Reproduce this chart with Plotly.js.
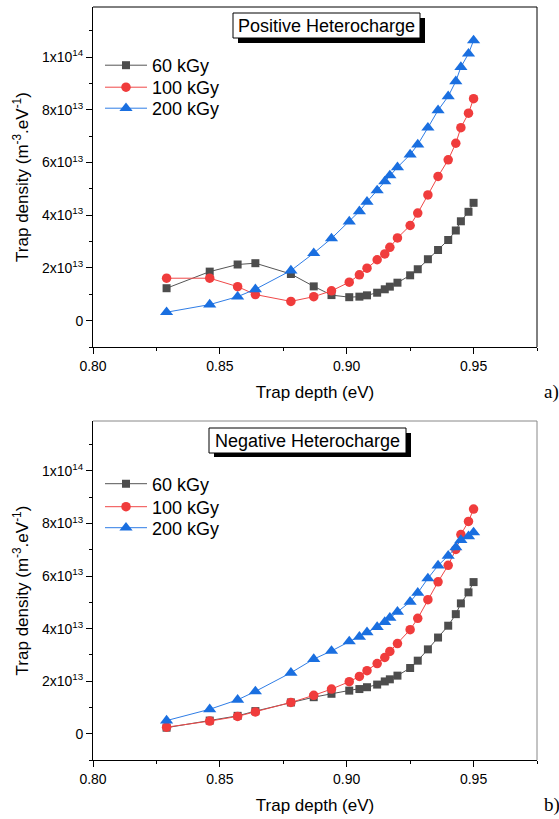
<!DOCTYPE html>
<html>
<head>
<meta charset="utf-8">
<script src="https://cdn.plot.ly/plotly-3.0.1.min.js"></script>
<style>html,body{margin:0;padding:0;background:#fff;}#chart{width:559px;height:819px;}</style>
</head>
<body>
<div id="chart"></div>
<script>
// ---- data ----
const trapDepth = [0.829, 0.846, 0.857, 0.864, 0.878, 0.887, 0.894, 0.901, 0.905, 0.908, 0.912, 0.915, 0.917, 0.920, 0.925, 0.928, 0.932, 0.936, 0.940, 0.943, 0.945, 0.948, 0.950];
const seriesNames = ['60 kGy', '100 kGy', '200 kGy'];
// Positive heterocharge (m^-3 eV^-1)
const pos60  = [1.23e13, 1.86e13, 2.13e13, 2.18e13, 1.77e13, 1.30e13, 0.97e13, 0.89e13, 0.91e13, 0.96e13, 1.06e13, 1.19e13, 1.29e13, 1.44e13, 1.72e13, 1.95e13, 2.33e13, 2.68e13, 3.06e13, 3.42e13, 3.77e13, 4.13e13, 4.47e13];
const pos100 = [1.61e13, 1.61e13, 1.29e13, 0.99e13, 0.73e13, 0.91e13, 1.13e13, 1.46e13, 1.74e13, 1.99e13, 2.31e13, 2.53e13, 2.78e13, 3.14e13, 3.61e13, 4.08e13, 4.77e13, 5.47e13, 6.10e13, 6.73e13, 7.32e13, 7.87e13, 8.42e13];
const pos200 = [0.32e13, 0.61e13, 0.91e13, 1.19e13, 1.90e13, 2.56e13, 3.12e13, 3.76e13, 4.15e13, 4.51e13, 4.94e13, 5.28e13, 5.51e13, 5.82e13, 6.30e13, 6.68e13, 7.32e13, 7.98e13, 8.51e13, 9.08e13, 9.62e13, 10.13e13, 10.63e13];
// Negative heterocharge
const neg60  = [0.23e13, 0.50e13, 0.68e13, 0.86e13, 1.19e13, 1.39e13, 1.52e13, 1.64e13, 1.70e13, 1.77e13, 1.87e13, 1.99e13, 2.07e13, 2.21e13, 2.50e13, 2.78e13, 3.21e13, 3.66e13, 4.11e13, 4.55e13, 4.96e13, 5.38e13, 5.77e13];
const neg100 = [0.25e13, 0.48e13, 0.66e13, 0.83e13, 1.19e13, 1.46e13, 1.70e13, 1.98e13, 2.18e13, 2.40e13, 2.67e13, 2.90e13, 3.13e13, 3.43e13, 3.96e13, 4.39e13, 5.10e13, 5.78e13, 6.41e13, 7.01e13, 7.58e13, 8.08e13, 8.55e13];
const neg200 = [0.50e13, 0.93e13, 1.29e13, 1.61e13, 2.32e13, 2.84e13, 3.15e13, 3.51e13, 3.69e13, 3.86e13, 4.06e13, 4.25e13, 4.41e13, 4.64e13, 5.02e13, 5.36e13, 5.91e13, 6.40e13, 6.77e13, 7.09e13, 7.37e13, 7.51e13, 7.66e13];
const yTickVals = [0, 2e13, 4e13, 6e13, 8e13, 1e14];
const yTickText = ['0', '2x10<sup>13</sup>', '4x10<sup>13</sup>', '6x10<sup>13</sup>', '8x10<sup>13</sup>', '1x10<sup>14</sup>'];
const xTickVals = [0.80, 0.85, 0.90, 0.95];
const xTickText = ['0.80', '0.85', '0.90', '0.95'];
const panelTitles = ['Positive Heterocharge', 'Negative Heterocharge'];
const panelLetters = ['a)', 'b)'];

// ---- styling ----
const W = 559, H = 819;
const px = v => v / W;
const py = v => 1 - v / H;
const FONT = 'Liberation Sans, Arial, sans-serif';
const styles = [
  {color: '#4d4d4d', line: '#555555', symbol: 'square', size: 8},
  {color: '#f03c3c', line: '#f04848', symbol: 'circle', size: 9.5},
  {color: '#1a6fe0', line: '#2f7de6', symbol: 'triangle-up', size: 11.5}
];

function mk(y, i, xa, ya, leg) {
  const s = styles[i];
  return {
    x: trapDepth, y: y, type: 'scatter', mode: 'lines+markers',
    name: seriesNames[i], xaxis: xa, yaxis: ya, legend: leg,
    line: {color: s.line, width: 1},
    marker: {symbol: s.symbol, size: s.size, color: s.color, line: {width: 0}}
  };
}

const data = [
  mk(pos60, 0, 'x', 'y', 'legend'), mk(pos100, 1, 'x', 'y', 'legend2'), mk(pos200, 2, 'x', 'y', 'legend3'),
  mk(neg60, 0, 'x2', 'y2', 'legend4'), mk(neg100, 1, 'x2', 'y2', 'legend5'), mk(neg200, 2, 'x2', 'y2', 'legend6')
];

function xAx(anchor) {
  return {
    anchor: anchor, domain: [px(93), px(537)], range: [0.8, 0.975],
    tickvals: xTickVals, ticktext: xTickText, ticks: 'outside', ticklen: 6, tickwidth: 1, tickcolor: '#000',
    minor: {dtick: 0.025, tick0: 0.8, ticks: 'outside', ticklen: 3, tickcolor: '#000'},
    showline: true, linecolor: '#000', linewidth: 1, mirror: false, showgrid: false, zeroline: false,
    tickfont: {family: FONT, size: 14, color: '#000'},
    title: {text: 'Trap depth (eV)', font: {family: FONT, size: 17, color: '#000'}, standoff: 13},
    automargin: false
  };
}
function yAx(anchor, dom) {
  return {
    anchor: anchor, domain: dom, range: [-1e13, 1.19e14],
    tickvals: yTickVals, ticktext: yTickText, ticks: 'outside', ticklen: 6, tickwidth: 1, tickcolor: '#000',
    minor: {dtick: 1e13, tick0: 0, ticks: 'outside', ticklen: 3, tickcolor: '#000'},
    showline: true, linecolor: '#000', linewidth: 1, mirror: false, showgrid: false, zeroline: false,
    tickfont: {family: FONT, size: 14, color: '#000'},
    title: {text: 'Trap density (m<sup>-3</sup>.eV<sup>-1</sup>)', font: {family: FONT, size: 17, color: '#000'}, standoff: 8},
    automargin: false
  };
}

const shapes = [
  // frame top/right of panel a
  {type: 'line', xref: 'paper', yref: 'paper', x0: px(93), x1: px(537), y0: py(7), y1: py(7), line: {color: '#000', width: 1}},
  {type: 'line', xref: 'paper', yref: 'paper', x0: px(537), x1: px(537), y0: py(7), y1: py(347), line: {color: '#000', width: 1}},
  // frame top/right of panel b
  {type: 'line', xref: 'paper', yref: 'paper', x0: px(93), x1: px(537), y0: py(421), y1: py(421), line: {color: '#888', width: 1}},
  {type: 'line', xref: 'paper', yref: 'paper', x0: px(537), x1: px(537), y0: py(421), y1: py(760), line: {color: '#888', width: 1}},
  // title boxes with shadow
  {type: 'rect', xref: 'paper', yref: 'paper', x0: px(238), x1: px(425), y0: py(18), y1: py(43), fillcolor: '#000', line: {width: 0}},
  {type: 'rect', xref: 'paper', yref: 'paper', x0: px(233), x1: px(420), y0: py(13), y1: py(38), fillcolor: '#fff', line: {color: '#000', width: 1}},
  {type: 'rect', xref: 'paper', yref: 'paper', x0: px(214), x1: px(411), y0: py(433), y1: py(457), fillcolor: '#000', line: {width: 0}},
  {type: 'rect', xref: 'paper', yref: 'paper', x0: px(209), x1: px(406), y0: py(428), y1: py(453), fillcolor: '#fff', line: {color: '#000', width: 1}}
];

const annotations = [
  {text: panelTitles[0], xref: 'paper', yref: 'paper', x: px(326.5), y: py(25.5), xanchor: 'center', yanchor: 'middle', showarrow: false, font: {family: FONT, size: 18, color: '#000'}},
  {text: panelTitles[1], xref: 'paper', yref: 'paper', x: px(307.5), y: py(440.5), xanchor: 'center', yanchor: 'middle', showarrow: false, font: {family: FONT, size: 18, color: '#000'}},
  {text: panelLetters[0], xref: 'paper', yref: 'paper', x: px(542), y: py(392), xanchor: 'left', yanchor: 'middle', showarrow: false, font: {family: 'Liberation Serif, Times New Roman, serif', size: 19, color: '#000'}},
  {text: panelLetters[1], xref: 'paper', yref: 'paper', x: px(542), y: py(805), xanchor: 'left', yanchor: 'middle', showarrow: false, font: {family: 'Liberation Serif, Times New Roman, serif', size: 19, color: '#000'}}
];

const legendBase = {
  xanchor: 'left', yanchor: 'middle', bgcolor: 'rgba(0,0,0,0)', borderwidth: 0,
  font: {family: FONT, size: 18, color: '#000'}, itemwidth: 42
};
const legendRows = [65.5, 87.5, 108.5, 484, 507, 528];
const LX = 100;

const layout = {
  width: W, height: H, margin: {l: 0, r: 0, t: 0, b: 0},
  paper_bgcolor: '#fff', plot_bgcolor: '#fff', showlegend: true,
  font: {family: FONT, color: '#000'},
  xaxis: xAx('y'), yaxis: yAx('x', [py(347), py(7)]),
  xaxis2: xAx('y2'), yaxis2: yAx('x2', [py(760), py(421)]),
  shapes: shapes, annotations: annotations
};
['legend', 'legend2', 'legend3', 'legend4', 'legend5', 'legend6'].forEach((k, i) => {
  layout[k] = Object.assign({}, legendBase, {x: px(LX), y: py(legendRows[i])});
});

Plotly.newPlot('chart', data, layout, {displayModeBar: false, staticPlot: true});
</script>
</body>
</html>
